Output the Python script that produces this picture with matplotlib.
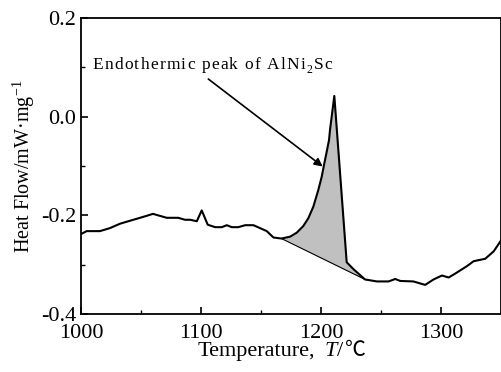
import matplotlib
matplotlib.use("Agg")
import matplotlib.pyplot as plt
import numpy as np
from matplotlib.ticker import MultipleLocator
from matplotlib.transforms import IdentityTransform

plt.rcParams['font.family'] = ['Liberation Serif', 'DejaVu Serif']
plt.rcParams['mathtext.fontset'] = 'custom'
plt.rcParams['mathtext.rm'] = 'Liberation Serif'
plt.rcParams['mathtext.it'] = 'Liberation Serif:italic'

temperature = [1000, 1004.7, 1015.8, 1024, 1032.5, 1043.6, 1052, 1060, 1071.4, 1081,
               1086.7, 1091, 1096.5, 1100.6, 1105.6, 1111.8, 1117.3, 1121.5, 1125.7,
               1131, 1136.8, 1143.7, 1149.3, 1154.8, 1160.4, 1167, 1174.2, 1179.75,
               1185.25, 1189.4, 1193.6, 1197.75, 1200.6, 1202.5, 1204.75, 1206.7,
               1207.5, 1211.1, 1221.4, 1227, 1236.7, 1246.6, 1256.3, 1261.9, 1266,
               1277, 1286.8, 1293.8, 1300.8, 1306.4, 1311.9, 1321.6, 1327.2, 1336.9,
               1343.9, 1350]
heat_flow = [-0.238, -0.232, -0.232, -0.226, -0.217, -0.209, -0.203, -0.197, -0.205,
             -0.205, -0.209, -0.209, -0.212, -0.190, -0.219, -0.224, -0.224, -0.220,
             -0.224, -0.224, -0.220, -0.220, -0.226, -0.232, -0.245, -0.247, -0.2433,
             -0.2352, -0.2217, -0.206, -0.1825, -0.1487, -0.1217, -0.098, -0.071,
             -0.0473, -0.027, 0.042, -0.295, -0.309, -0.330, -0.334, -0.334, -0.329,
             -0.333, -0.334, -0.341, -0.330, -0.322, -0.326, -0.318, -0.303, -0.293,
             -0.288, -0.273, -0.251]
baseline_T = [1167, 1236.7]
baseline_H = [-0.247, -0.330]
annotation_main = "Endothermic peak of AlNi"
annotation_sub = "2"
annotation_tail = "Sc"
annotation_pos = (1009.75, 0.096)
arrow_start = (1106.1, 0.0763)
arrow_end = (1201.4, -0.101)
xticks = [1000, 1100, 1200, 1300]
yticks = [-0.4, -0.2, 0.0, 0.2]
ytick_labels = ['-0.4', '-0.2', '0.0', '0.2']

W, H_PX = 502, 372
fig = plt.figure(figsize=(W / 100, H_PX / 100), dpi=100)
ax = fig.add_axes([81 / W, 1 - 314 / H_PX, 420 / W, 296 / H_PX])

T = np.array(temperature)
H = np.array(heat_flow)
mask = (T >= baseline_T[0]) & (T <= baseline_T[1])
base = np.interp(T[mask], baseline_T, baseline_H)
ax.fill_between(T[mask], H[mask], base, color='#c0c0c0', lw=0)
ax.plot(baseline_T, baseline_H, color='black', lw=0.8)
ax.plot(T, H, color='black', lw=1.5, solid_joinstyle='round')

ax.annotate('', xy=arrow_end, xytext=arrow_start,
            arrowprops=dict(arrowstyle='-|>', color='black', lw=1.2,
                            mutation_scale=12, shrinkA=0, shrinkB=0))

ax.set_xlim(1000, 1350)
ax.set_ylim(-0.4, 0.2)
ax.set_xticks(xticks)
ax.set_yticks(yticks)
ax.set_yticklabels(ytick_labels)
ax.xaxis.set_minor_locator(MultipleLocator(50))
ax.yaxis.set_minor_locator(MultipleLocator(0.1))
ax.tick_params(which='both', direction='in', top=False, right=False, labelsize=16)
ax.tick_params(axis='x', pad=7)
ax.tick_params(which='major', length=5, width=1.2)
ax.tick_params(which='minor', length=3, width=1.0)
for s in ax.spines.values():
    s.set_linewidth(1.3)
ax.set_ylabel('Heat Flow/mW\u00b7mg$^{-1}$', fontsize=14.5, labelpad=3)

renderer = fig.canvas.get_renderer()


def place_runs(runs, x0, y0, tracking=0.0, ha='left'):
    """runs: list of (string, kwargs, dy_px, extra_px_after). Coordinates in pixels from top-left."""
    placed = []
    x = 0.0
    for s, kw, dy, extra in runs:
        chars = list(s) if tracking else ([s] if s else [])
        for ch in chars:
            t = fig.text(0, 0, ch, transform=IdentityTransform(), va='baseline', ha='left', **kw)
            if ch == ' ':
                w = kw.get('fontsize', 12) * 0.25 * 100 / 72
            else:
                w = t.get_window_extent(renderer).width
            placed.append((t, x, dy))
            x += w + tracking
        x += extra
    total = x - tracking
    shift = -total / 2 if ha == 'center' else 0.0
    for t, xx, dy in placed:
        t.set_position((x0 + shift + xx, (H_PX - y0) + dy))


# annotation with letter spacing
ax_px = ax.transData.transform(annotation_pos)
ann_kw = dict(fontsize=12.5)
place_runs([(annotation_main, ann_kw, 0, 0),
            (annotation_sub, dict(fontsize=8.5), -3.5, 0),
            (annotation_tail, ann_kw, 0, 0)],
           ax_px[0], H_PX - ax_px[1], tracking=1.2)

# x label
xl_kw = dict(fontsize=16)
place_runs([("Temperature,", xl_kw, 0, 9),
            ("T", dict(fontsize=16, style='italic'), 0, 1),
            ("/", xl_kw, 0, 1),
            ("\u2103", dict(fontsize=15, family=['Noto Sans CJK SC', 'DejaVu Sans']), 0, 0)],
           281.5, 356, tracking=0.0, ha='center')

fig.savefig('out.png', dpi=100)
